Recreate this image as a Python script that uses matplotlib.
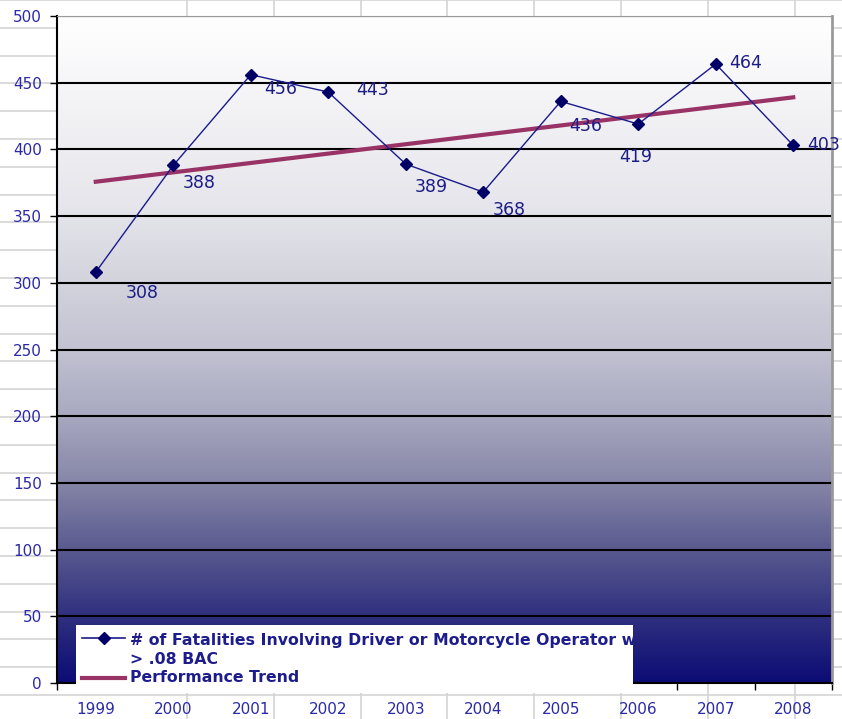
import matplotlib.pyplot as plt
import numpy as np
from matplotlib.colors import LinearSegmentedColormap
from matplotlib.lines import Line2D
from matplotlib.patches import Rectangle
from matplotlib.transforms import Bbox

years = ['1999', '2000', '2001', '2002', '2003', '2004', '2005', '2006', '2007', '2008']
fatalities = [308, 388, 456, 443, 389, 368, 436, 419, 464, 403]
series_label = '# of Fatalities Involving Driver or Motorcycle Operator w/\n> .08 BAC'
trend_label = 'Performance Trend'

# label offsets (pixels) like excel put them
label_off = [(46, -21), (26, -18), (30, -14), (44, 2), (26, -23),
             (26, -18), (25, -25), (-3, -33), (30, 1), (30, 0)]

W, H = 842, 719
fig = plt.figure(figsize=(W / 100, H / 100), dpi=100)
fig.patch.set_facecolor('white')

# spreadsheet cells behind the chart
for yy in np.arange(0, H, 27.8):
    fig.add_artist(Line2D([0, 1], [1 - yy / H, 1 - yy / H], color='#d4d4d4', lw=1.2, zorder=-1))
for xx in np.arange(187, W, 86.8):
    fig.add_artist(Line2D([xx / W, xx / W], [0, 1], color='#d4d4d4', lw=1.2, zorder=-1))

ax = fig.add_axes([57 / W, 1 - 683 / H, (832 - 57) / W, (683 - 16) / H])
ax.patch.set_alpha(0)

# gradient background white -> navy
cmap = LinearSegmentedColormap.from_list('bg', [
    (0.0, '#ffffff'), (0.28, '#e6e6ec'), (0.40, '#d3d3dd'), (0.50, '#c2c2d2'),
    (0.60, '#a8a8c0'), (0.70, '#8686a8'), (0.80, '#5a5a90'), (0.90, '#30307f'),
    (1.0, '#0c0c76')])
grad = np.linspace(0, 1, 256).reshape(-1, 1)
ax.imshow(grad, cmap=cmap, aspect='auto', extent=[0, 1, 0, 1], transform=ax.transAxes, zorder=0)

x = np.arange(len(years))
z = np.polyfit(x, fatalities, 1)
trend = np.polyval(z, x)

ax.plot(x, trend, color='#993366', lw=3, zorder=3)
ax.plot(x, fatalities, color='#1a1a8c', lw=1, marker='D', markersize=6.5,
        markerfacecolor='#000066', markeredgecolor='#000066', zorder=4)

for xi, v, (dx, dy) in zip(x, fatalities, label_off):
    ax.annotate(str(v), (xi, v), xytext=(dx, dy), textcoords='offset pixels',
                ha='center', va='center', fontsize=12.5, color='#1c1c86', zorder=5)

ax.set_xlim(-0.5, len(years) - 0.5)
ax.set_ylim(0, 500)
ax.set_yticks(np.arange(0, 501, 50))
ax.yaxis.grid(True, color='black', lw=1.5)
ax.set_axisbelow(True)
ax.tick_params(axis='y', length=5, width=1, pad=6, labelsize=11, labelcolor='#2a2aa8')

ax.set_xticks(np.arange(-0.5, len(years), 1))
ax.set_xticklabels([])
ax.set_xticks(x, minor=True)
ax.set_xticklabels(years, minor=True)
ax.tick_params(axis='x', which='major', length=5, width=1)
ax.tick_params(axis='x', which='minor', length=0, pad=14, labelsize=11, labelcolor='#2a2aa8')

ax.spines['left'].set_color('black')
ax.spines['bottom'].set_color('black')
ax.spines['left'].set_linewidth(1.5)
ax.spines['bottom'].set_linewidth(1.5)
ax.spines['top'].set_color('#9a9a9a')
ax.spines['right'].set_color('#9a9a9a')
ax.spines['right'].set_linewidth(2)

# legend box (white, covers bottom of plot)
lx0, lx1, ly0, ly1 = 76, 633, 625, 693
fig.add_artist(Rectangle((lx0 / W, 1 - ly1 / H), (lx1 - lx0) / W, (ly1 - ly0) / H,
                         transform=fig.transFigure, facecolor='white', edgecolor='none', zorder=1))
fig.add_artist(Line2D([82 / W, 125 / W], [1 - 638 / H] * 2, color='#1a1a8c', lw=1.2, zorder=2))
fig.add_artist(Line2D([104 / W], [1 - 638 / H], marker='D', markersize=6.5,
                      color='#000066', zorder=2))
fig.add_artist(Line2D([82 / W, 125 / W], [1 - 678 / H] * 2, color='#993366', lw=3, zorder=2))

clip = Bbox.from_extents(lx0, H - ly1, lx1, H - ly0)
t1 = fig.text(130 / W, 1 - 650 / H, series_label, fontsize=11.3, fontweight='bold',
              color='#1c1c8c', ha='left', va='center', linespacing=1.3, zorder=3)
t1.set_clip_box(clip)
t1.set_clip_on(True)
fig.text(130 / W, 1 - 678 / H, trend_label, fontsize=11.3, fontweight='bold',
         color='#1c1c8c', ha='left', va='center', zorder=3)

plt.savefig('out.png', dpi=100)
